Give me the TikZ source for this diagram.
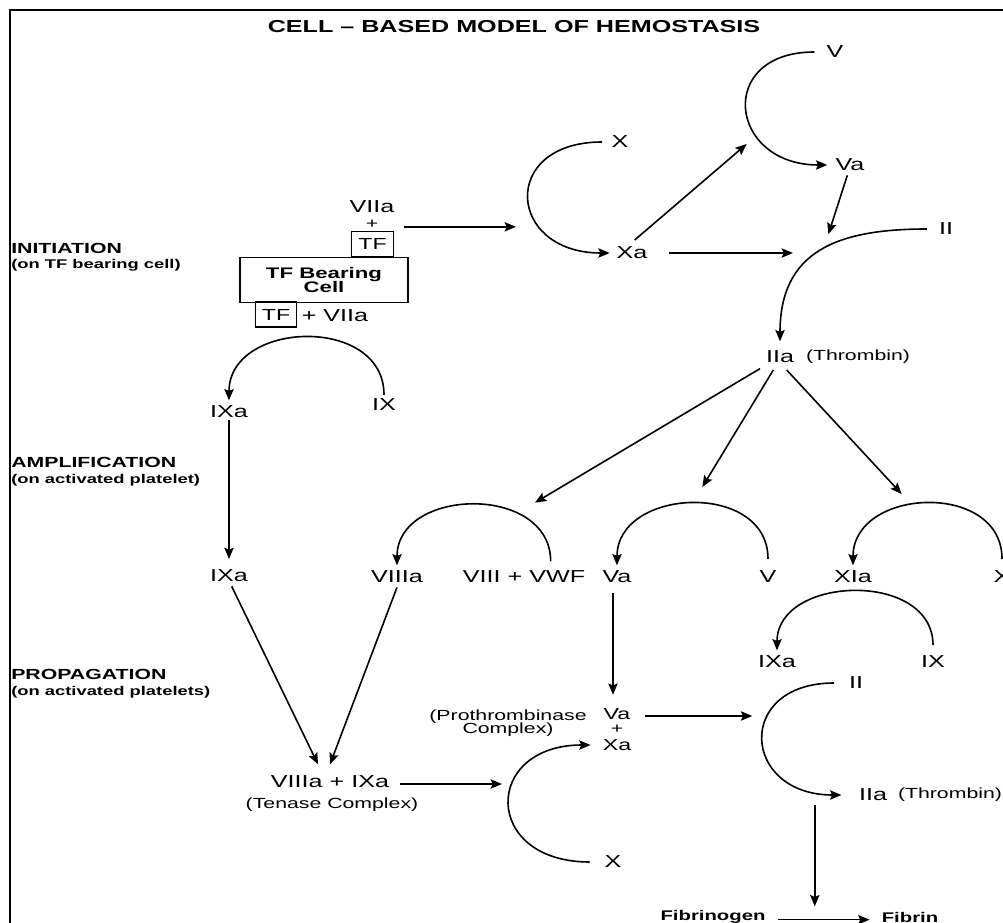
\documentclass[tikz,border=0pt]{standalone}
\usepackage{fontspec}
\setmainfont{Liberation Sans}[FakeStretch=1.45]
\usetikzlibrary{arrows.meta}
\begin{document}
\begin{tikzpicture}[x=0.75pt,y=-0.75pt,
 lab/.style={font=\fontsize{13}{15}\selectfont, inner sep=1pt},
 lsm/.style={font=\fontsize{11}{13}\selectfont, inner sep=1pt},
 lmd/.style={font=\fontsize{12}{14}\selectfont, inner sep=1pt},
 hd/.style={font=\bfseries\fontsize{11}{13}\selectfont, inner sep=0pt, anchor=west},
 sub/.style={font=\bfseries\fontsize{9.5}{11}\selectfont, inner sep=0pt, anchor=west},
 box/.style={draw, line width=1pt, inner sep=0pt},
 arr/.style={line width=1.2pt, -{Stealth[length=8.5pt,width=7pt,inset=1.5pt]}},
 ln/.style={line width=1.5pt}]
\useasboundingbox (0,0) rectangle (1003,923);
\draw[ln] (10,923) -- (10,10) -- (1003,10);
\node[font=\bfseries\fontsize{13}{15}\selectfont] (title) at (514,27) {CELL – BASED MODEL OF HEMOSTASIS};
% phase headings
\node[hd] (ini) at (11,248) {INITIATION};
\node[sub] (inis) at (11,265) {(on TF bearing cell)};
\node[hd] (amp) at (11,462) {AMPLIFICATION};
\node[sub] (amps) at (11,480) {(on activated platelet)};
\node[hd] (prop) at (11,674) {PROPAGATION};
\node[sub] (props) at (11,692) {(on activated platelets)};
% TF bearing cell
\node[lab] (VIIa) at (372,207) {VIIa};
\node[lsm] (plus1) at (372,224) {+};
\node[box, minimum width=31.2pt, minimum height=18.75pt, font=\fontsize{12}{14}\selectfont] (TF1) at (372.5,244) {TF};
\node[box, minimum width=126pt, minimum height=33.75pt, align=center, font=\bfseries\fontsize{11.5}{13}\selectfont] (cell) at (324,280) {TF Bearing\\[-2pt]Cell};
\node[box, minimum width=31.2pt, minimum height=19pt, font=\fontsize{12}{14}\selectfont] (TF2) at (276,314.5) {TF};
\node[lab] (pVIIa) at (335,316) {+ VIIa};
% top right
\node[lab] (X1) at (620,142) {X};
\node[lab] (Xa1) at (632,253) {Xa};
\node[lab] (V1) at (835,52) {V};
\node[lab] (Va1) at (850,165) {Va};
\node[lab] (II1) at (946,229) {II};
\node[lab] (IIa1) at (780,357) {IIa};
\node[lsm] (thr1) at (858,357) {(Thrombin)};
% initiation -> IX
\node[lab] (IXa0) at (229,412) {IXa};
\node[lab] (IX0) at (384,405) {IX};
% amplification row
\node[lab] (IXa1) at (229,576) {IXa};
\node[lab] (VIIIa) at (397,577) {VIIIa};
\node[lab] (VIIIvwf) at (524,577) {VIII + VWF};
\node[lab] (Va2) at (617,577) {Va};
\node[lab] (V2) at (768,577) {V};
\node[lab] (XIa) at (853,577) {XIa};
\node[lab] (X2) at (1002,577) {X};
\node[lab] (IXa2) at (777,662) {IXa};
\node[lab] (IX2) at (933,662) {IX};
% propagation
\node[lab] (ten) at (330,782) {VIIIa + IXa};
\node[lsm] (tens) at (332,805) {(Tenase Complex)};
\node[lsm, align=center] (proth) at (508,723) {(Prothrombinase\\[-3pt]Complex)};
\node[lmd] (Va3) at (617,714) {Va};
\node[lsm] (plus3) at (617,729) {+};
\node[lmd] (Xa3) at (617,745) {Xa};
\node[lab] (X3) at (613,862) {X};
\node[lab] (II2) at (856,683) {II};
\node[lab] (IIa2) at (873,795) {IIa};
\node[lsm] (thr2) at (950,795) {(Thrombin)};
\node[lsm, font=\bfseries\fontsize{10.5}{12}\selectfont] (fbg) at (713,917) {Fibrinogen};
\node[lsm, font=\bfseries\fontsize{10.5}{12}\selectfont] (fib) at (910,917) {Fibrin};
% initiation arrows
\draw[arr] ([xshift=7.5pt,yshift=3pt]TF1.north east) -- ++(112,0);
\draw[arr] ([xshift=-6pt]X1.west) .. controls +(-103,0) and +(-103,0) .. ([xshift=-4pt]Xa1.west);
\draw[arr] ([xshift=15pt]Xa1.east) -- ++(124,0);
\draw[arr] ([xshift=2pt,yshift=4pt]Xa1.north) -- ++(112,-96);
\draw[arr] ([xshift=-8pt]V1.west) .. controls +(-99,0) and +(-99,0) .. ([xshift=-5pt]Va1.west);
\draw[arr] ([xshift=-2pt,yshift=-2pt]Va1.south) -- ++(-19,59);
\draw[arr] ([xshift=-8pt]II1.west) .. controls +(-90,0) and +(0,-90) .. ([yshift=6pt]IIa1.north);
\draw[arr] ([xshift=-15pt,yshift=-3pt]IIa1.south) -- ++(-225,134);
\draw[arr] ([xshift=-5pt,yshift=-4pt]IIa1.south) -- ++(-71,117);
\draw[arr] ([xshift=5pt,yshift=-4pt]IIa1.south) -- ++(115,124);
\draw[arr] ([yshift=2pt]IX0.north) .. controls +(0,-80) and +(0,-80) .. ([yshift=3pt]IXa0.north);
\draw[arr, shorten >=7pt] (IXa0.south) -- (IXa1.north);
% amplification cycles
\draw[arr] ([xshift=20pt,yshift=6pt]VIIIvwf.north) .. controls +(0,-78) and +(0,-78) .. ([yshift=3pt]VIIIa.north);
\draw[arr] ([yshift=8pt]V2.north) .. controls +(0,-78) and +(0,-78) .. ([yshift=3pt]Va2.north);
\draw[arr] ([yshift=8pt]X2.north) .. controls +(0,-78) and +(0,-78) .. ([yshift=3pt]XIa.north);
\draw[arr] ([yshift=7pt]IX2.north) .. controls +(0,-75) and +(0,-75) .. ([yshift=3pt]IXa2.north);
% propagation
\draw[arr] ([xshift=2pt,yshift=-2pt]IXa1.south) -- ([xshift=-9pt,yshift=7.5pt]ten.north);
\draw[arr] ([yshift=-2pt]VIIIa.south) -- ([yshift=7.5pt]ten.north);
\draw[arr] ([xshift=7pt,yshift=-1.5pt]ten.east) -- ++(102,0);
\draw[arr] ([xshift=-3pt,yshift=-6pt]Va2.south) -- ([xshift=-3pt,yshift=9pt]Va3.north);
\draw[arr] ([xshift=10pt,yshift=-1.5pt]Va3.east) -- ++(107,0);
\draw[arr] ([xshift=-10pt]X3.west) .. controls +(-108,0) and +(-108,0) .. ([xshift=-8pt]Xa3.west);
\draw[arr] ([xshift=-10pt]II2.west) .. controls +(-100,0) and +(-100,0) .. ([xshift=-12pt]IIa2.west);
\draw[arr] ([xshift=-32pt,yshift=-2pt]IIa2.south west) -- ++(0,101);
\draw[arr, shorten <=8pt, shorten >=8pt] ([yshift=-2pt]fbg.east) -- ([yshift=-2pt]fib.west);
\end{tikzpicture}
\end{document}
